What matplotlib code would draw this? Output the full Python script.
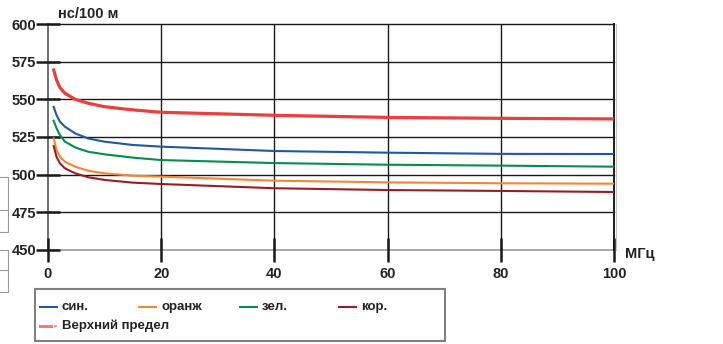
import matplotlib
matplotlib.use('Agg')
import matplotlib.pyplot as plt
from matplotlib.lines import Line2D
from matplotlib.patches import Rectangle

plt.rcParams['font.family'] = ['Liberation Sans', 'DejaVu Sans']

# частота, МГц
freq = [1, 1.5, 2.1, 3, 4.8, 7.1, 10, 15, 20, 40, 60, 80, 100]
# задержка, нс/100 м
blue = [545, 539.6, 535.2, 531.8, 527.4, 524, 521.9, 519.7, 518.6, 515.7, 514.6, 513.8, 513.7]
orange = [524.1, 516.4, 512, 508.6, 505.3, 502.6, 500.9, 499.3, 498.7, 496, 494.9, 494.3, 494]
green = [535.8, 530.8, 526.3, 521.9, 518.1, 515.2, 513.5, 511.3, 509.7, 507.7, 506.6, 506, 505.3]
brown = [519, 511.9, 507.5, 504.2, 500.9, 498.3, 496.5, 494.7, 493.8, 491, 489.8, 489.2, 488.5]
limit = [569.5, 563, 557.8, 554, 550, 547.4, 545.1, 543, 541.4, 539.4, 538, 537.4, 537]

labels = ['син.', 'оранж', 'зел.', 'кор.']
colors = ['#2156a5', '#f5862e', '#00904a', '#9b1c20']
limit_label = 'Верхний предел'
limit_color = '#ee3d3d'

xticks = [0, 20, 40, 60, 80, 100]
yticks = [450, 475, 500, 525, 550, 575, 600]

fig = plt.figure(figsize=(7.23, 3.44), dpi=100)
ax = fig.add_axes([48/723, 94/344, 566/723, 226/344])
ax.set_xlim(0, 100)
ax.set_ylim(450, 600)
for s in ax.spines.values():
    s.set_visible(False)

# сетка
for y in yticks[1:]:
    ax.plot([0, 100], [y, y], color='#1a1a1a', lw=1.0, zorder=1, clip_on=False)
ax.plot([0, 100], [450, 450], color='#9a9a9a', lw=1.2, zorder=1, clip_on=False)
ax.plot([0, 100], [600.3, 600.3], color='#c8c8c8', lw=0.8, zorder=0, clip_on=False)
for x in xticks[1:-1]:
    ax.plot([x, x], [450, 600], color='#1a1a1a', lw=1.0, zorder=1)
ax.plot([0, 0], [450, 600], color='#555555', lw=1.2, zorder=1, clip_on=False)
ax.plot([100, 100], [450, 600], color='#1a1a1a', lw=1.4, zorder=1, clip_on=False)
ax.plot([100.35, 100.35], [450, 600], color='#c0c0c0', lw=0.8, zorder=1, clip_on=False)

series = [blue, orange, green, brown]
for vals, c in zip(series, colors):
    ax.plot(freq, vals, color=c, lw=1.5, zorder=3)
ax.plot(freq, limit, color=limit_color, lw=2.3, zorder=3)

ax.set_xticks(xticks)
ax.set_yticks(yticks)
ax.tick_params(axis='both', direction='inout', length=17, width=1.8, color='#1a1a1a',
               labelsize=10.5, labelcolor='#222222')
ax.tick_params(axis='y', pad=0)
ax.tick_params(axis='x', pad=3.5)
for lab in ax.get_xticklabels() + ax.get_yticklabels():
    lab.set_fontweight('bold')

fig.text(58/723, 1 - 14/344, 'нс/100 м', fontsize=10.5, fontweight='bold',
         color='#222222', va='center', ha='left')
fig.text(625/723, 1 - 254/344, 'МГц', fontsize=10.5, fontweight='bold',
         color='#222222', va='center', ha='left')

# легенда
fig.patches.append(Rectangle((35/723, 1 - 341/344), 410/723, 52/344,
                             transform=fig.transFigure, fill=False,
                             edgecolor='#808080', lw=1.5))
xs = [40, 139, 240, 339]
for x, lab, c in zip(xs, labels, colors):
    fig.lines.append(Line2D([x/723, (x + 17)/723], [1 - 307/344] * 2,
                            transform=fig.transFigure, color=c, lw=1.5))
    fig.text((x + 22)/723, 1 - 307/344, lab, fontsize=9.5, fontweight='bold',
             color='#222222', va='center', ha='left')
fig.lines.append(Line2D([40/723, 51/723], [1 - 326/344] * 2,
                        transform=fig.transFigure, color='#f07878', lw=2.2))
fig.lines.append(Line2D([54.5/723, 56/723], [1 - 326/344] * 2,
                        transform=fig.transFigure, color='#f07878', lw=1.2))
fig.text(62/723, 1 - 326/344, limit_label, fontsize=9.5, fontweight='bold',
         color='#222222', va='center', ha='left')

# обрезанные рамки соседнего блока слева
for top, bot, mid in [(177, 232, 210), (250, 292, 270)]:
    fig.lines.append(Line2D([0, 8/723, 8/723, 0],
                            [1 - top/344, 1 - top/344, 1 - bot/344, 1 - bot/344],
                            transform=fig.transFigure, color='#9a9a9a', lw=0.8))
    fig.lines.append(Line2D([0, 8/723], [1 - mid/344] * 2,
                            transform=fig.transFigure, color='#9a9a9a', lw=0.8))

fig.savefig('out.png', dpi=100)
